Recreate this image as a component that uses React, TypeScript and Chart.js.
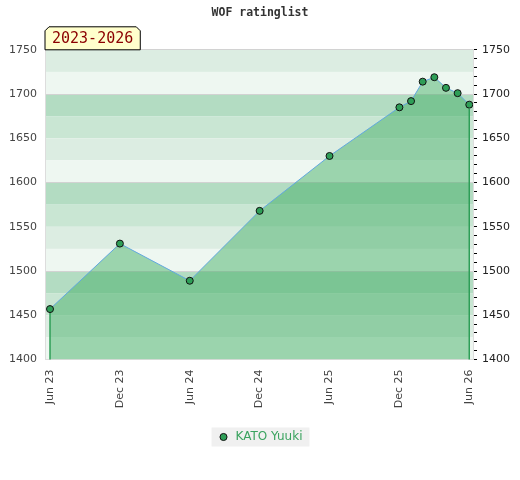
import { useEffect, useRef } from 'react';
import { Chart, registerables } from 'chart.js';

Chart.register(...registerables);

const TITLE = 'WOF ratinglist';
const PERIOD = '2023-2026';
const PLAYER = 'KATO Yuuki';

// months since Jun 2023
const monthIndex = [0, 6, 12, 18, 24, 30, 31, 32, 33, 34, 35, 36];
const ratings = [1457, 1531, 1489, 1568, 1630, 1685, 1692, 1714, 1719, 1707, 1701, 1688];

const tickMonths = [0, 6, 12, 18, 24, 30, 36];
const tickLabels = ['Jun 23', 'Dec 23', 'Jun 24', 'Dec 24', 'Jun 25', 'Dec 25', 'Jun 26'];

const yMin = 1400;
const yMax = 1750;
const yMajorTicks = [1400, 1450, 1500, 1550, 1600, 1650, 1700, 1750];
const yMinorTicks = Array.from({ length: 36 }, (_, i) => 1400 + i * 10);

const bandColors = ['#b3dcc2', '#c9e6d3', '#dcede2', '#eef7f1'];

const backgroundPlugin = {
  id: 'bgBands',
  beforeDraw(chart: any) {
    const { ctx, chartArea: a, scales } = chart;
    const y = scales.y;
    ctx.save();
    ctx.fillStyle = '#ffffff';
    ctx.fillRect(0, 0, chart.width, chart.height);
    for (let v = yMax; v > yMin; v -= 25) {
      const top = y.getPixelForValue(v);
      const bot = y.getPixelForValue(v - 25);
      const idx = ((100 - (v % 100)) % 100) / 25;
      ctx.fillStyle = bandColors[idx];
      ctx.fillRect(a.left, top, a.right - a.left, bot - top);
    }
    const lg = chart.legend;
    if (lg && lg.legendHitBoxes && lg.legendHitBoxes[0]) {
      const hb = lg.legendHitBoxes[0];
      ctx.fillStyle = '#f0f0f0';
      ctx.fillRect(hb.left - 6, hb.top + hb.height / 2 - 9.5, hb.width + 13, 19);
    }
    ctx.restore();
  },
};

const edgePlugin = {
  id: 'edges',
  afterDatasetsDraw(chart: any) {
    const { ctx, chartArea: a } = chart;
    const meta = chart.getDatasetMeta(0);
    const pts = [meta.data[0], meta.data[meta.data.length - 1]];
    ctx.save();
    ctx.strokeStyle = '#2e9e57';
    ctx.lineWidth = 1.5;
    pts.forEach((p: any) => {
      ctx.beginPath();
      ctx.moveTo(p.x, p.y + 4);
      ctx.lineTo(p.x, a.bottom);
      ctx.stroke();
    });
    ctx.restore();
  },
};

const periodPlugin = {
  id: 'period',
  afterDraw(chart: any) {
    const { ctx, chartArea: a } = chart;
    ctx.save();
    ctx.font = '15px "DejaVu Sans Mono"';
    const tw = ctx.measureText(PERIOD).width;
    const x0 = a.left;
    const x1 = a.left + tw + 14;
    const y1 = a.top;
    const y0 = a.top - 23;
    const c = 4;
    ctx.beginPath();
    ctx.moveTo(x0, y1);
    ctx.lineTo(x0, y0 + c);
    ctx.lineTo(x0 + c, y0);
    ctx.lineTo(x1 - c, y0);
    ctx.lineTo(x1, y0 + c);
    ctx.lineTo(x1, y1);
    ctx.closePath();
    ctx.fillStyle = '#ffffcc';
    ctx.fill();
    ctx.strokeStyle = '#000';
    ctx.lineWidth = 1;
    ctx.stroke();
    ctx.fillStyle = '#8b0000';
    ctx.textBaseline = 'middle';
    ctx.textAlign = 'left';
    ctx.fillText(PERIOD, x0 + 7, (y0 + y1) / 2 + 1);
    ctx.restore();
  },
};

export default function App() {
  const ref = useRef<HTMLCanvasElement>(null);

  useEffect(() => {
    if (!ref.current) return;
    const tickFont = { family: '"DejaVu Sans"', size: 11 };
    const chart = new Chart(ref.current, {
      type: 'line',
      data: {
        datasets: [
          {
            label: PLAYER,
            data: monthIndex.map((m, i) => ({ x: m, y: ratings[i] })),
            borderColor: '#62a8e0',
            borderWidth: 1,
            backgroundColor: 'rgba(57,169,93,0.46)',
            fill: 'start',
            tension: 0,
            pointRadius: 3.5,
            pointBackgroundColor: '#2e9e57',
            pointBorderColor: '#111111',
            pointBorderWidth: 1,
          },
        ],
      },
      options: {
        animation: false,
        responsive: false,
        devicePixelRatio: 1,
        layout: { padding: { left: 0, right: 0, top: 0, bottom: 27 } },
        plugins: {
          title: {
            display: true,
            text: TITLE,
            color: '#333333',
            font: { family: '"DejaVu Sans Mono"', size: 11.5, weight: 'bold' },
            padding: { top: 6, bottom: 30 },
          },
          legend: {
            display: true,
            position: 'bottom',
            labels: {
              usePointStyle: true,
              boxHeight: 5,
              boxWidth: 12,
              padding: 10,
              color: '#3aa35f',
              font: { family: '"DejaVu Sans"', size: 12 },
            },
          },
          tooltip: { enabled: false },
        },
        scales: {
          x: {
            type: 'linear',
            min: -0.43,
            max: 36.32,
            afterBuildTicks: (s: any) => {
              s.ticks = tickMonths.map((v) => ({ value: v }));
            },
            afterFit: (s: any) => {
              s.height = 61.5;
            },
            ticks: {
              autoSkip: false,
              minRotation: 90,
              maxRotation: 90,
              padding: 10,
              color: '#444444',
              font: tickFont,
              callback: (v: any) => {
                const i = tickMonths.indexOf(Number(v));
                return i >= 0 ? tickLabels[i] : '';
              },
            },
            grid: { display: false, drawTicks: false },
            border: { display: true, color: '#dddddd' },
          },
          y: {
            type: 'linear',
            position: 'left',
            min: yMin,
            max: yMax,
            afterBuildTicks: (s: any) => {
              s.ticks = yMajorTicks.map((v) => ({ value: v }));
            },
            afterFit: (s: any) => {
              s.width = 45;
            },
            ticks: {
              autoSkip: false,
              padding: 8,
              color: '#444444',
              font: tickFont,
              callback: (v: any) => String(v),
            },
            grid: {
              drawTicks: false,
              color: (c: any) =>
                c.tick && (c.tick.value % 100 === 0 || c.tick.value === yMax) && c.tick.value !== yMin
                  ? '#d2d2d2'
                  : 'rgba(0,0,0,0)',
            },
            border: { display: true, color: '#dddddd' },
          },
          y2: {
            type: 'linear',
            position: 'right',
            min: yMin,
            max: yMax,
            afterBuildTicks: (s: any) => {
              s.ticks = yMinorTicks.map((v) => ({ value: v }));
            },
            afterFit: (s: any) => {
              s.width = 47;
            },
            ticks: {
              autoSkip: false,
              padding: 5,
              color: '#222222',
              font: tickFont,
              callback: (v: any) => (Number(v) % 50 === 0 ? String(v) : ''),
            },
            grid: {
              drawOnChartArea: false,
              drawTicks: true,
              tickLength: 4,
              tickColor: '#000000',
              tickWidth: 1,
            },
            border: { display: true, color: '#dddddd' },
          },
        },
      } as any,
      plugins: [backgroundPlugin, edgePlugin, periodPlugin],
    });
    return () => chart.destroy();
  }, []);

  return (
    <div style={{ position: 'fixed', left: 0, top: 0, width: 520, height: 480, background: '#fff' }}>
      <canvas ref={ref} width={520} height={480} style={{ display: 'block', width: 520, height: 480 }} />
    </div>
  );
}
